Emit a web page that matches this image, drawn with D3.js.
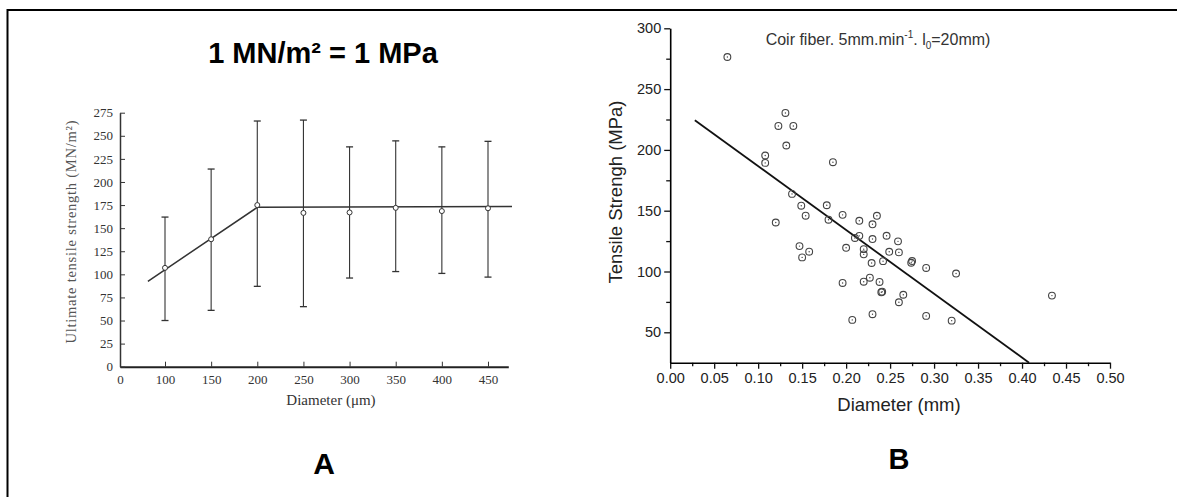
<!DOCTYPE html>
<html>
<head>
<meta charset="utf-8">
<script src="https://cdn.jsdelivr.net/npm/d3@7"></script>
<style>
  body { margin: 0; background: #fff; }
  svg { display: block; }
</style>
</head>
<body>
<script>
// panel A : ultimate tensile strength vs diameter (um), mean +/- error bars
var diamA = [100, 150, 200, 250, 300, 350, 400, 450];
var meanA = [107, 138, 175, 166.5, 167, 172, 168.5, 171.5];
var lowA  = [50, 61, 87, 65, 96, 103, 101, 97];
var highA = [162, 214, 266, 267, 238, 244.5, 238, 244];
var fitAx = [62, 200, 476];
var fitAy = [92.5, 172.5, 173.5];
var xTicksA = [0, 100, 150, 200, 250, 300, 350, 400, 450];
var yTicksA = [0, 25, 50, 75, 100, 125, 150, 175, 200, 225, 250, 275];

// panel B : coir fiber tensile strength vs diameter (mm)
var diamB = [0.065, 0.131, 0.123, 0.140, 0.132, 0.108, 0.108, 0.185, 0.1385, 0.149,
             0.154, 0.120, 0.178, 0.180, 0.196, 0.215, 0.235, 0.230, 0.147, 0.150,
             0.158, 0.200, 0.210, 0.215, 0.230, 0.246, 0.259, 0.220, 0.220, 0.249,
             0.260, 0.229, 0.242, 0.275, 0.274, 0.291, 0.325, 0.196, 0.220, 0.227,
             0.238, 0.240, 0.241, 0.265, 0.260, 0.230, 0.207, 0.291, 0.320, 0.434];
var strB  = [276.4, 230.4, 219.7, 219.7, 203.6, 195.4, 189.3, 189.9, 163.8, 154.1,
             145.9, 140.3, 154.5, 142.6, 146.6, 141.7, 145.8, 138.8, 120.9, 111.6,
             116.3, 119.5, 127.6, 129.3, 126.7, 129.4, 124.8, 118.4, 114.1, 116.2,
             115.7, 107.0, 108.5, 108.6, 107.2, 102.9, 98.3, 90.6, 91.6, 94.9,
             91.4, 82.9, 83.4, 80.9, 74.7, 64.9, 60.2, 63.5, 59.6, 80.2];
var fitBx = [0.028, 0.408];
var fitBy = [224.4, 25];
var xTicksB = [0, 0.05, 0.1, 0.15, 0.2, 0.25, 0.3, 0.35, 0.4, 0.45, 0.5];
var xMinorB = [0.025, 0.075, 0.125, 0.175, 0.225, 0.275, 0.325, 0.375, 0.425, 0.475];
var yTicksB = [50, 100, 150, 200, 250, 300];
var yMinorB = [75, 125, 175, 225, 275];

var svg = d3.select("body").append("svg")
    .attr("width", 1177)
    .attr("height", 497);

// frame
svg.append("path")
  .attr("d", "M7.5,497V10H1177")
  .attr("fill", "none")
  .attr("stroke", "#000")
  .attr("stroke-width", 2);

// ---------- panel A ----------
var serif = "'Liberation Serif', 'DejaVu Serif', serif";
var sans = "'Liberation Sans', Arial, sans-serif";

// axis is broken between 0 and 100, so the scale is piecewise
var xA = d3.scaleLinear().domain([0, 100, 472]).range([120, 165, 508.3]);
var yA = d3.scaleLinear().domain([0, 275]).range([366.7, 112.7]);

var gA = svg.append("g");

var axA = gA.append("g")
  .attr("transform", "translate(0,366.7)")
  .call(d3.axisBottom(xA).tickValues(xTicksA).tickSize(-5).tickSizeOuter(0).tickPadding(8));
var ayA = gA.append("g")
  .attr("transform", "translate(120,0)")
  .call(d3.axisLeft(yA).tickValues(yTicksA).tickSize(-5).tickSizeOuter(0).tickPadding(7));

[axA, ayA].forEach(function(a){
  a.selectAll("text").attr("font-family", serif).attr("font-size", 13).attr("fill", "#333");
  a.selectAll("line").attr("stroke", "#333");
});
axA.select(".domain").attr("stroke", "#222").attr("stroke-width", 2);
ayA.select(".domain").attr("stroke", "#333").attr("stroke-width", 1.5);

gA.append("text")
  .attr("x", 331).attr("y", 405)
  .attr("text-anchor", "middle")
  .attr("font-family", serif).attr("font-size", 15).attr("fill", "#333")
  .text("Diameter (\u03bcm)");

gA.append("text")
  .attr("transform", "translate(76,232) rotate(-90)")
  .attr("text-anchor", "middle")
  .attr("font-family", serif).attr("font-size", 14.5)
  .attr("fill", "#555")
  .attr("textLength", 223).attr("lengthAdjust", "spacing")
  .text("Ultimate tensile strength (MN/m\u00b2)");

// error bars
var bars = gA.selectAll(".ebar").data(diamA).enter().append("g").attr("class", "ebar");
bars.append("line")
  .attr("x1", function(d){ return xA(d); }).attr("x2", function(d){ return xA(d); })
  .attr("y1", function(d, i){ return yA(lowA[i]); })
  .attr("y2", function(d, i){ return yA(highA[i]); })
  .attr("stroke", "#333").attr("stroke-width", 1.1);
bars.append("line")
  .attr("x1", function(d){ return xA(d) - 3.5; }).attr("x2", function(d){ return xA(d) + 3.5; })
  .attr("y1", function(d, i){ return yA(lowA[i]); })
  .attr("y2", function(d, i){ return yA(lowA[i]); })
  .attr("stroke", "#333").attr("stroke-width", 1.3);
bars.append("line")
  .attr("x1", function(d){ return xA(d) - 3.5; }).attr("x2", function(d){ return xA(d) + 3.5; })
  .attr("y1", function(d, i){ return yA(highA[i]); })
  .attr("y2", function(d, i){ return yA(highA[i]); })
  .attr("stroke", "#333").attr("stroke-width", 1.3);

gA.append("path")
  .datum(fitAx)
  .attr("d", d3.line().x(function(d){ return xA(d); }).y(function(d, i){ return yA(fitAy[i]); }))
  .attr("fill", "none").attr("stroke", "#333").attr("stroke-width", 1.5);

gA.selectAll(".ptA").data(diamA).enter().append("circle")
  .attr("class", "ptA")
  .attr("cx", function(d){ return xA(d); })
  .attr("cy", function(d, i){ return yA(meanA[i]); })
  .attr("r", 2.5)
  .attr("fill", "#fff").attr("stroke", "#333").attr("stroke-width", 1);

svg.append("text")
  .attr("x", 323).attr("y", 63)
  .attr("text-anchor", "middle")
  .attr("font-family", sans).attr("font-size", 29).attr("font-weight", "bold")
  .text("1 MN/m\u00b2 = 1 MPa");

svg.append("text")
  .attr("x", 324).attr("y", 474)
  .attr("text-anchor", "middle")
  .attr("font-family", sans).attr("font-size", 30).attr("font-weight", "bold")
  .text("A");

// ---------- panel B ----------
var xB = d3.scaleLinear().domain([0, 0.5]).range([670.2, 1110]);
var yB = d3.scaleLinear().domain([25, 300]).range([362.7, 28.3]);

var gB = svg.append("g");

gB.append("g")
  .attr("transform", "translate(0,362.7)")
  .call(d3.axisBottom(xB).tickValues(xMinorB).tickSize(3.5).tickFormat(""))
  .select(".domain").remove();
gB.append("g")
  .attr("transform", "translate(670.2,0)")
  .call(d3.axisLeft(yB).tickValues(yMinorB).tickSize(4).tickFormat(""))
  .select(".domain").remove();

var axB = gB.append("g")
  .attr("transform", "translate(0,362.7)")
  .call(d3.axisBottom(xB).tickValues(xTicksB).tickSize(6).tickSizeOuter(0).tickPadding(4)
        .tickFormat(d3.format(".2f")));
var ayB = gB.append("g")
  .attr("transform", "translate(670.2,0)")
  .call(d3.axisLeft(yB).tickValues(yTicksB).tickSize(6).tickSizeOuter(0).tickPadding(3));

[axB, ayB].forEach(function(a){
  a.selectAll("text").attr("font-family", sans).attr("font-size", 14.5).attr("fill", "#222");
  a.select(".domain").attr("stroke-width", 1.6);
});
gB.selectAll(".tick line").attr("stroke", "#111").attr("stroke-width", 1.3);

gB.append("text")
  .attr("x", 899).attr("y", 411)
  .attr("text-anchor", "middle")
  .attr("font-family", sans).attr("font-size", 18.5).attr("fill", "#222")
  .text("Diameter (mm)");

gB.append("text")
  .attr("transform", "translate(622,192) rotate(-90)")
  .attr("text-anchor", "middle")
  .attr("font-family", sans).attr("font-size", 18.5).attr("fill", "#222")
  .text("Tensile Strengh (MPa)");

var note = gB.append("text")
  .attr("x", 878).attr("y", 45)
  .attr("text-anchor", "middle")
  .attr("font-family", sans).attr("font-size", 16).attr("fill", "#333");
note.append("tspan").text("Coir fiber. 5mm.min");
note.append("tspan").attr("dy", -7).attr("font-size", 10).text("-1");
note.append("tspan").attr("dy", 7).text(". l");
note.append("tspan").attr("dy", 4).attr("font-size", 10).text("0");
note.append("tspan").attr("dy", -4).text("=20mm)");

gB.append("path")
  .datum(fitBx)
  .attr("d", d3.line().x(function(d){ return xB(d); }).y(function(d, i){ return yB(fitBy[i]); }))
  .attr("fill", "none").attr("stroke", "#111").attr("stroke-width", 1.8);

var pts = gB.selectAll(".ptB").data(diamB).enter().append("g").attr("class", "ptB");
pts.append("circle")
  .attr("cx", function(d){ return xB(d); })
  .attr("cy", function(d, i){ return yB(strB[i]); })
  .attr("r", 3.4)
  .attr("fill", "none").attr("stroke", "#444").attr("stroke-width", 1.1);
pts.append("circle")
  .attr("cx", function(d){ return xB(d); })
  .attr("cy", function(d, i){ return yB(strB[i]); })
  .attr("r", 0.7)
  .attr("fill", "#444");

svg.append("text")
  .attr("x", 899).attr("y", 468.5)
  .attr("text-anchor", "middle")
  .attr("font-family", sans).attr("font-size", 29).attr("font-weight", "bold")
  .text("B");
</script>
</body>
</html>
